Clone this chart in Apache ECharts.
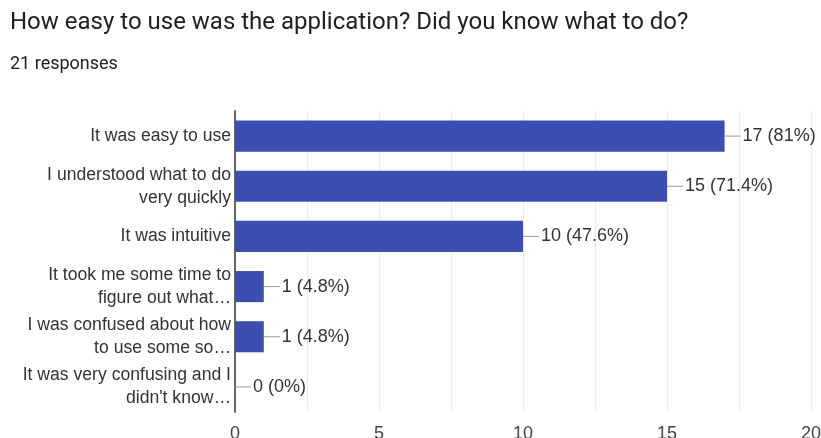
<!DOCTYPE html>
<html>
<head>
<meta charset="utf-8">
<script src="https://cdn.jsdelivr.net/npm/echarts@6/dist/echarts.min.js"></script>
<style>
html,body{margin:0;padding:0;background:#fff;}
#chart{width:821px;height:438px;}
</style>
</head>
<body>
<div id="chart"></div>
<script>
const titleText = "How easy to use was the application? Did you know what to do?";
const subtitleText = "21 responses";
const categories = [
  "It was easy to use",
  "I understood what to do\nvery quickly",
  "It was intuitive",
  "It took me some time to\nfigure out what\u2026",
  "I was confused about how\nto use some so\u2026",
  "It was very confusing and I\ndidn't know\u2026"
];
const counts = [17, 15, 10, 1, 1, 0];
const percentLabels = ["81%", "71.4%", "47.6%", "4.8%", "4.8%", "0%"];
const xTicks = [0, 5, 10, 15, 20];

const chart = echarts.init(document.getElementById('chart'), null, {renderer: 'canvas'});
const font = "Arial, 'Liberation Sans', sans-serif";
chart.setOption({
  animation: false,
  title: [
    {text: titleText, left: 5, top: 6, textStyle: {fontFamily: "Roboto, Arial, sans-serif", fontSize: 24, fontWeight: 'normal', color: '#202124'}},
    {text: subtitleText, left: 5, top: 50, textStyle: {fontFamily: "Roboto, Arial, sans-serif", fontSize: 18, fontWeight: 'normal', color: '#202124'}}
  ],
  grid: {left: 235, right: 10, top: 111, bottom: 26, containLabel: false, outerBoundsMode: 'none'},
  xAxis: {
    type: 'value', min: xTicks[0], max: xTicks[xTicks.length - 1], interval: 5,
    axisLine: {show: false}, axisTick: {show: false},
    axisLabel: {fontFamily: font, fontSize: 18, color: '#444', margin: 13},
    splitLine: {show: true, lineStyle: {color: '#ebebeb', width: 1}},
    minorTick: {show: false, splitNumber: 2},
    minorSplitLine: {show: true, lineStyle: {color: '#ebebeb', width: 1}}
  },
  yAxis: {
    type: 'category', inverse: true, data: categories,
    axisLine: {show: true, lineStyle: {color: '#666', width: 2}},
    axisTick: {show: false},
    axisLabel: {fontFamily: font, fontSize: 17.6, color: '#333', margin: 4, lineHeight: 23, align: 'right'}
  },
  series: [{
    type: 'bar',
    data: counts,
    barCategoryGap: '38%',
    itemStyle: {color: '#3b4fb0'},
    label: {
      show: true, position: 'right', distance: 0,
      formatter: p => '{l|}{t|' + counts[p.dataIndex] + ' (' + percentLabels[p.dataIndex] + ')}',
      rich: {
        l: {width: 16, height: 1, backgroundColor: '#999'},
        t: {fontFamily: font, fontSize: 18, color: '#333', padding: [0, 0, 0, 2]}
      }
    }
  }]
});
</script>
</body>
</html>
